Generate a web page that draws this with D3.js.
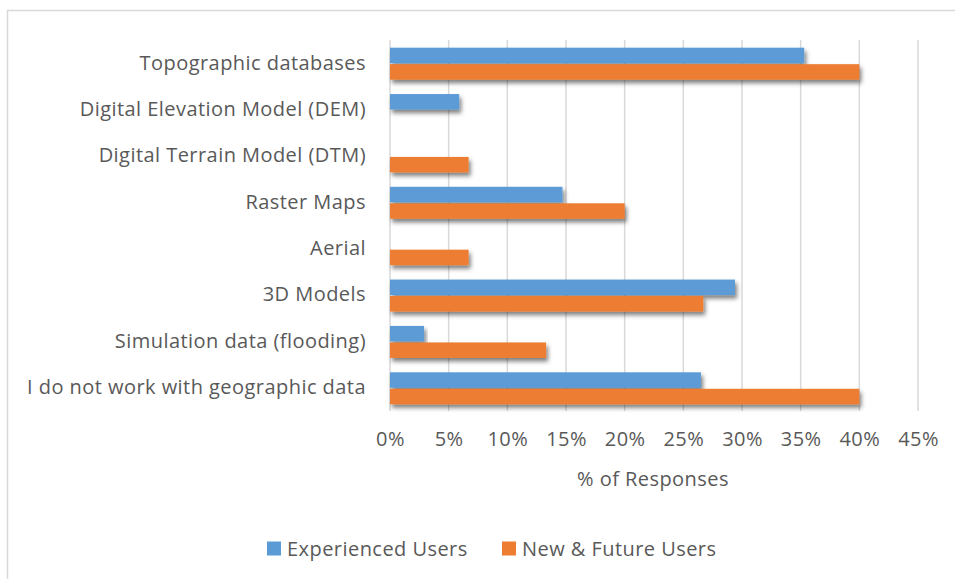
<!DOCTYPE html>
<html>
<head>
<meta charset="utf-8">
<script src="https://cdn.jsdelivr.net/npm/d3@7/dist/d3.min.js"></script>
<style>
  html, body { margin: 0; padding: 0; background: #fff; }
  svg { display: block; }
  text { font-family: "Open Sans", "Noto Sans", sans-serif; fill: #595959; letter-spacing: 0.45px; }
</style>
</head>
<body>
<svg id="chart" width="955" height="579"></svg>
<script>
// Survey categories (top to bottom)
const categories = [
  "Topographic databases",
  "Digital Elevation Model (DEM)",
  "Digital Terrain Model (DTM)",
  "Raster Maps",
  "Aerial",
  "3D Models",
  "Simulation data (flooding)",
  "I do not work with geographic data"
];
// Share of responses, in percent
const experiencedUsers = [35.3, 5.9, 0, 14.7, 0, 29.4, 2.9, 26.5];
const newFutureUsers   = [40.0, 0, 6.7, 20.0, 6.7, 26.7, 13.3, 40.0];
const seriesNames = ["Experienced Users", "New & Future Users"];
const seriesColors = ["#5B9BD5", "#ED7D31"];
const tickValues = [0, 5, 10, 15, 20, 25, 30, 35, 40, 45];

const FONT_SIZE = 20;
const svg = d3.select("#chart");

// Outer chart frame
svg.append("rect")
  .attr("x", 7.5).attr("y", 10.5)
  .attr("width", 960).attr("height", 600)
  .attr("fill", "none").attr("stroke", "#D9D9D9").attr("stroke-width", 1.5);

// Soft drop shadow for the bars
const defs = svg.append("defs");
const f = defs.append("filter").attr("id", "shadow")
  .attr("x", "-5%").attr("y", "-30%").attr("width", "115%").attr("height", "200%");
f.append("feDropShadow")
  .attr("dx", 2).attr("dy", 3.5).attr("stdDeviation", 2.2)
  .attr("flood-color", "#000").attr("flood-opacity", 0.5);

const plot = { left: 390, right: 918, top: 40, bottom: 411 };

const x = d3.scaleLinear().domain([0, 45]).range([plot.left, plot.right]);
const y = d3.scaleBand().domain(categories).range([plot.top, plot.bottom]);
const inner = d3.scaleBand().domain(seriesNames)
  .range([y.bandwidth() / 2 - 15.5, y.bandwidth() / 2 + 16.5]).paddingInner(0.06);

// Vertical gridlines
svg.append("g")
  .selectAll("line")
  .data(tickValues)
  .join("line")
  .attr("x1", d => x(d)).attr("x2", d => x(d))
  .attr("y1", plot.top).attr("y2", plot.bottom)
  .attr("stroke", "#D9D9D9").attr("stroke-width", 1.5);

// Bars
const series = [experiencedUsers, newFutureUsers];
const barG = svg.append("g");
categories.forEach((c, i) => {
  series.forEach((vals, s) => {
    if (vals[i] <= 0) return;
    barG.append("rect")
      .attr("x", x(0))
      .attr("y", y(c) + inner(seriesNames[s]))
      .attr("width", x(vals[i]) - x(0))
      .attr("height", inner.bandwidth())
      .attr("fill", seriesColors[s])
      .attr("filter", "url(#shadow)");
  });
});

// Category axis labels
const yAxis = d3.axisLeft(y).tickSize(0).tickPadding(24);
const yg = svg.append("g").attr("transform", `translate(${plot.left},0)`).call(yAxis);
yg.select(".domain").remove();
yg.selectAll("text")
  .attr("font-size", FONT_SIZE)
  .attr("fill", "#595959")
  .style("font-family", '"Open Sans", sans-serif');

// Value axis labels
const xAxis = d3.axisBottom(x).tickValues(tickValues).tickFormat(d => d + "%").tickSize(0).tickPadding(21);
const xg = svg.append("g").attr("transform", `translate(0,${plot.bottom})`).call(xAxis);
xg.select(".domain").remove();
xg.selectAll("text")
  .attr("font-size", FONT_SIZE)
  .attr("fill", "#595959")
  .style("font-family", '"Open Sans", sans-serif');

// Axis title
svg.append("text")
  .attr("x", 653).attr("y", 486)
  .attr("text-anchor", "middle")
  .attr("font-size", FONT_SIZE)
  .text("% of Responses");

// Legend
const legend = svg.append("g");
const legendX = [267, 502];
seriesNames.forEach((n, i) => {
  legend.append("rect")
    .attr("x", legendX[i]).attr("y", 541.5)
    .attr("width", 14).attr("height", 14)
    .attr("fill", seriesColors[i]);
  legend.append("text")
    .attr("x", legendX[i] + 20).attr("y", 556)
    .attr("font-size", FONT_SIZE)
    .text(n);
});
</script>
</body>
</html>
